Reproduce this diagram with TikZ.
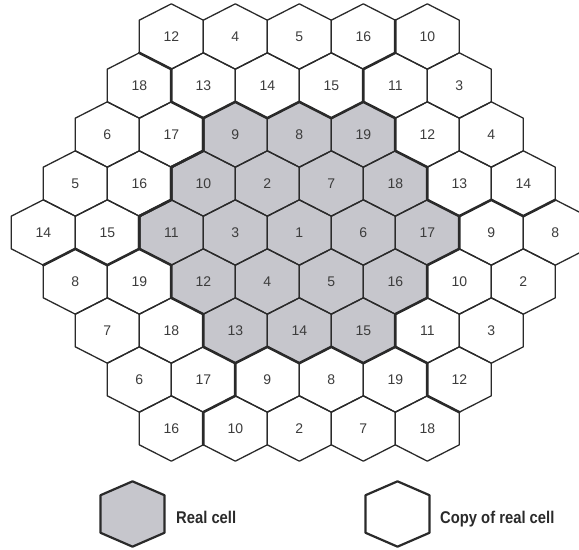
\documentclass[tikz,border=0pt]{standalone}
\usepackage{fontspec}
\setmainfont{Liberation Sans}
\usetikzlibrary{positioning}
\definecolor{cellgray}{HTML}{C6C6CC}
\definecolor{ink}{HTML}{2A2A2A}
\definecolor{numink}{HTML}{3C3C3C}

\begin{document}
\begin{tikzpicture}[x=32pt,y=-16.333pt,
    hexline/.style={draw=ink,line width=1.3pt,line join=round},
    border/.style={draw=ink,line width=2.6pt,line join=round,line cap=round},
    num/.style={text=numink,font=\fontsize{14}{16}\selectfont,inner sep=0pt},
    legtext/.style={text=ink,font=\fontsize{17}{19}\selectfont\bfseries,
                    xscale=0.87,anchor=base west,inner sep=0pt}]
    \useasboundingbox (-1.353,-2.235) rectangle (16.741,31.439);
    \clip (-1.353,-2.235) rectangle (16.741,31.439);

    % real cells (centre cluster)
    \draw[border,fill=cellgray] (5,5) -- (6,4) -- (7,5) -- (8,4) -- (9,5) -- (10,4)
        -- (11,5) -- (11,7) -- (12,8) -- (12,10) -- (13,11) -- (13,13) -- (12,14)
        -- (12,16) -- (11,17) -- (11,19) -- (10,20) -- (9,19) -- (8,20) -- (7,19)
        -- (6,20) -- (5,19) -- (5,17) -- (4,16) -- (4,14) -- (3,13) -- (3,11)
        -- (4,10) -- (4,8) -- (5,7) -- cycle;

    % borders between the copies
    \draw[border] (3,1) -- (4,2) -- (4,4) -- (5,5) -- (5,7) -- (4,8) -- (4,10)
        -- (3,11) -- (3,13) -- (2,14) -- (1,13) -- (0,14);
    \draw[border] (10,4) -- (10,2) -- (11,1) -- (11,-1);
    \draw[border] (13,11) -- (14,10) -- (15,11) -- (16,10);
    \draw[border] (11,19) -- (12,20) -- (12,22) -- (13,23);
    \draw[border] (6,20) -- (6,22) -- (5,23) -- (5,25);

    % row / first column / channel numbers
    \foreach \r/\h/\labs in {0/4/{12,4,5,16,10},1/3/{18,13,14,15,11,3},
        2/2/{6,17,9,8,19,12,4},3/1/{5,16,10,2,7,18,13,14},
        4/0/{14,15,11,3,1,6,17,9,8},5/1/{8,19,12,4,5,16,10,2},
        6/2/{7,18,13,14,15,11,3},7/3/{6,17,9,8,19,12},8/4/{16,10,2,7,18}}
      \foreach \n [count=\i from 0] in \labs {
        \draw[hexline] (\h+2*\i,3*\r) ++(0,-2) -- ++(1,1) -- ++(0,2)
            -- ++(-1,1) -- ++(-1,-1) -- ++(0,-2) -- cycle;
        \node[num] (cell-\r-\i) at (\h+2*\i,3*\r) {\n};
      }

    % legend
    \coordinate (realkey) at (2.788,29.235);
    \coordinate (copykey) at (11.069,29.235);
    \draw[hexline,line width=2.2pt,fill=cellgray] (realkey) ++(0,-2) -- ++(1,0.85)
        -- ++(0,2.3) -- ++(-1,0.85) -- ++(-1,-0.85) -- ++(0,-2.3) -- cycle;
    \draw[hexline,line width=2.2pt] (copykey) ++(0,-2) -- ++(1,0.85)
        -- ++(0,2.3) -- ++(-1,0.85) -- ++(-1,-0.85) -- ++(0,-2.3) -- cycle;
    \node[legtext] (realtxt) at (4.147,29.786) {Real cell};
    \node[legtext] (copytxt) at (12.397,29.786) {Copy of real cell};
\end{tikzpicture}
\end{document}
